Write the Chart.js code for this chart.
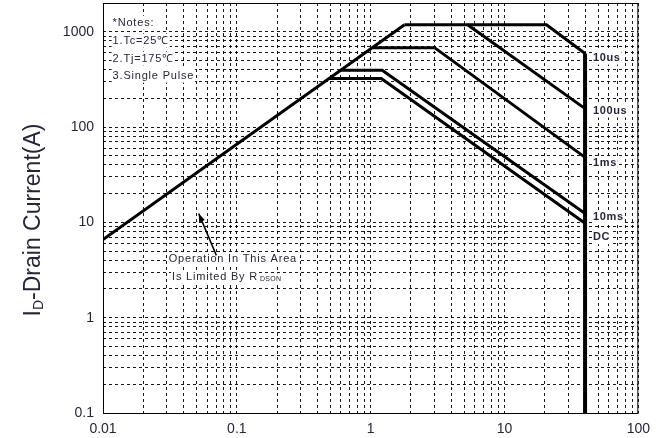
<!DOCTYPE html>
<html>
<head>
<meta charset="utf-8">
<script src="https://cdn.jsdelivr.net/npm/chart.js@4.4.0/dist/chart.umd.min.js"></script>
<style>
    html, body { margin: 0; padding: 0; background: #fff; }
    #wrap { width: 658px; height: 438px; }
</style>
</head>
<body>
<div id="wrap"><canvas id="soaChart"></canvas></div>
<script>
// Axis ranges and labelled ticks
const xRange = [0.01, 100];
const yRange = [0.1, 2000];
const xTickLabels = ['0.01', '0.1', '1', '10', '100'];
const yTickLabels = ['0.1', '1', '10', '100', '1000'];

// SOA curves: drain-source voltage (V) and drain current (A)
const rdsV = [0.01, 1.79];
const rdsI = [6.6, 1180];
const us10V = [1.79, 20.6, 40];
const us10I = [1180, 1180, 590];
const us100V = [5.3, 40];
const us100I = [1180, 156];
const ms1V = [1.04, 3, 40];
const ms1I = [680, 680, 48];
const ms10V = [0.6, 1.22, 40];
const ms10I = [395, 395, 12.4];
const dcV = [0.49, 1.2, 40];
const dcI = [322, 322, 9.8];
const vmaxV = [40, 40];
const vmaxI = [0.1, 590];

// Curve labels at the right of the Vds limit
const curveNames = ['10us', '100us', '1ms', '10ms', 'DC'];
const curveLabelI = [535, 149, 41.5, 11.3, 7.0];

// Notes box text
const notes = ['*Notes:', '1.Tc=25\u2103', '2.Tj=175\u2103', '3.Single Pulse'];
const notesI = [1242, 805, 521, 346];

const FONT = '"Liberation Sans", Arial, sans-serif';
const TEXT = '#26263a';

function gridValues(lo, hi) {
    const vals = [];
    for (let e = Math.round(Math.log10(lo)); e < Math.round(Math.log10(hi)); e++) {
        for (let k = 1; k <= 9; k++) vals.push(Number((k * Math.pow(10, e)).toPrecision(3)));
    }
    vals.push(hi);
    return vals;
}

function toPoints(xs, ys) {
    return xs.map((x, i) => ({ x: x, y: ys[i] }));
}

function curve(xs, ys, w) {
    return {
        data: toPoints(xs, ys),
        showLine: true,
        borderColor: '#000',
        borderWidth: w || 3,
        pointRadius: 0,
        fill: false,
        tension: 0
    };
}

function textWithBg(ctx, str, x, y) {
    const w = ctx.measureText(str).width;
    ctx.fillStyle = '#fff';
    ctx.fillRect(x - 1, y - 7, w + 2, 14);
    ctx.fillStyle = TEXT;
    ctx.fillText(str, x, y);
    return w;
}

// Text drawn over the grid but under the curves
const textPlugin = {
    id: 'soaText',
    beforeDatasetsDraw(chart) {
        const ctx = chart.ctx;
        const xs = chart.scales.x, ys = chart.scales.y;
        ctx.save();
        ctx.textBaseline = 'middle';
        ctx.textAlign = 'left';
        ctx.letterSpacing = '0.8px';

        // Notes
        ctx.font = '11px ' + FONT;
        notes.forEach((n, i) => textWithBg(ctx, n, xs.getPixelForValue(0.0118), ys.getPixelForValue(notesI[i])));

        // Rds(on) remark
        textWithBg(ctx, 'Operation In This Area', xs.getPixelForValue(0.031), ys.getPixelForValue(4.1));
        const lx = xs.getPixelForValue(0.0328), ly = ys.getPixelForValue(2.65);
        const w = textWithBg(ctx, 'Is Limited By R', lx, ly);
        ctx.font = '7px ' + FONT;
        ctx.letterSpacing = '0.3px';
        const sw = ctx.measureText('DSON').width;
        ctx.fillStyle = '#fff';
        ctx.fillRect(lx + w + 1, ly - 4, sw + 4, 10);
        ctx.fillStyle = TEXT;
        ctx.fillText('DSON', lx + w + 2, ly + 2);

        // Curve names
        ctx.font = 'bold 11px ' + FONT;
        ctx.letterSpacing = '0.6px';
        curveNames.forEach((n, i) => textWithBg(ctx, n, xs.getPixelForValue(40) + 8, ys.getPixelForValue(curveLabelI[i])));
        ctx.restore();
    },
    afterDraw(chart) {
        const ctx = chart.ctx;
        const a = chart.chartArea;
        const xs = chart.scales.x, ys = chart.scales.y;
        ctx.save();
        // plot frame
        ctx.strokeStyle = '#000';
        ctx.lineWidth = 1;
        ctx.strokeRect(a.left + 0.5, a.top + 0.5, a.right - a.left - 1, a.bottom - a.top);

        // arrow towards the Rds(on) line
        const x1 = xs.getPixelForValue(0.0703), y1 = ys.getPixelForValue(4.5);
        const x2 = xs.getPixelForValue(0.0519), y2 = ys.getPixelForValue(12.4);
        ctx.strokeStyle = '#000';
        ctx.lineWidth = 1.5;
        ctx.beginPath();
        ctx.moveTo(x1, y1);
        ctx.lineTo(x2, y2);
        ctx.stroke();
        const ang = Math.atan2(y2 - y1, x2 - x1);
        ctx.fillStyle = '#000';
        ctx.beginPath();
        ctx.moveTo(x2, y2);
        ctx.lineTo(x2 - 9 * Math.cos(ang - 0.35), y2 - 9 * Math.sin(ang - 0.35));
        ctx.lineTo(x2 - 9 * Math.cos(ang + 0.35), y2 - 9 * Math.sin(ang + 0.35));
        ctx.closePath();
        ctx.fill();

        // y axis title with subscript
        ctx.translate(34, 220);
        ctx.rotate(-Math.PI / 2);
        ctx.textBaseline = 'middle';
        ctx.textAlign = 'left';
        ctx.fillStyle = TEXT;
        ctx.font = '23px ' + FONT;
        const wI = ctx.measureText('I').width;
        const rest = '-Drain Current(A)';
        const wR = ctx.measureText(rest).width;
        ctx.font = '14px ' + FONT;
        const wD = ctx.measureText('D').width;
        let x = -(wI + wD + wR) / 2;
        ctx.font = '23px ' + FONT;
        ctx.fillText('I', x, 0);
        x += wI;
        ctx.font = '14px ' + FONT;
        ctx.fillText('D', x, 5);
        x += wD;
        ctx.font = '23px ' + FONT;
        ctx.fillText(rest, x, 0);
        ctx.restore();
    }
};

const ctx = document.getElementById('soaChart').getContext('2d');
const soaChart = new Chart(ctx, {
    type: 'scatter',
    data: {
        datasets: [
            curve(rdsV, rdsI),
            curve(us10V, us10I),
            curve(us100V, us100I),
            curve(ms1V, ms1I),
            curve(ms10V, ms10I),
            curve(dcV, dcI),
            curve(vmaxV, vmaxI, 4)
        ]
    },
    options: {
        responsive: true,
        maintainAspectRatio: false,
        animation: false,
        layout: { padding: { top: 3, right: 12, left: 0, bottom: 0 } },
        plugins: {
            legend: { display: false },
            tooltip: { enabled: false }
        },
        scales: {
            x: {
                type: 'logarithmic',
                min: xRange[0],
                max: xRange[1],
                afterBuildTicks: s => { s.ticks = gridValues(xRange[0], xRange[1]).map(v => ({ value: v })); },
                afterFit: s => { s.height = 25; s.paddingLeft = 0; },
                grid: { color: 'rgba(0,0,0,0.9)', lineWidth: 1, drawTicks: false },
                border: { display: false, dash: [3, 3] },
                ticks: {
                    autoSkip: false,
                    maxRotation: 0,
                    padding: 8,
                    color: TEXT,
                    font: { family: FONT, size: 14 },
                    callback: v => xTickLabels.includes(String(v)) ? String(v) : ''
                }
            },
            y: {
                type: 'logarithmic',
                min: yRange[0],
                max: yRange[1],
                afterBuildTicks: s => { s.ticks = gridValues(yRange[0], 1000).concat([2000]).map(v => ({ value: v })); },
                afterFit: s => { s.width = 103; s.paddingTop = 0; s.paddingBottom = 0; },
                grid: { color: 'rgba(0,0,0,0.9)', lineWidth: 1, drawTicks: false },
                border: { display: false, dash: [3, 3] },
                ticks: {
                    autoSkip: false,
                    padding: 9,
                    color: TEXT,
                    font: { family: FONT, size: 14 },
                    callback: v => yTickLabels.includes(String(v)) ? String(v) : ''
                }
            }
        }
    },
    plugins: [textPlugin]
});
</script>
</body>
</html>
